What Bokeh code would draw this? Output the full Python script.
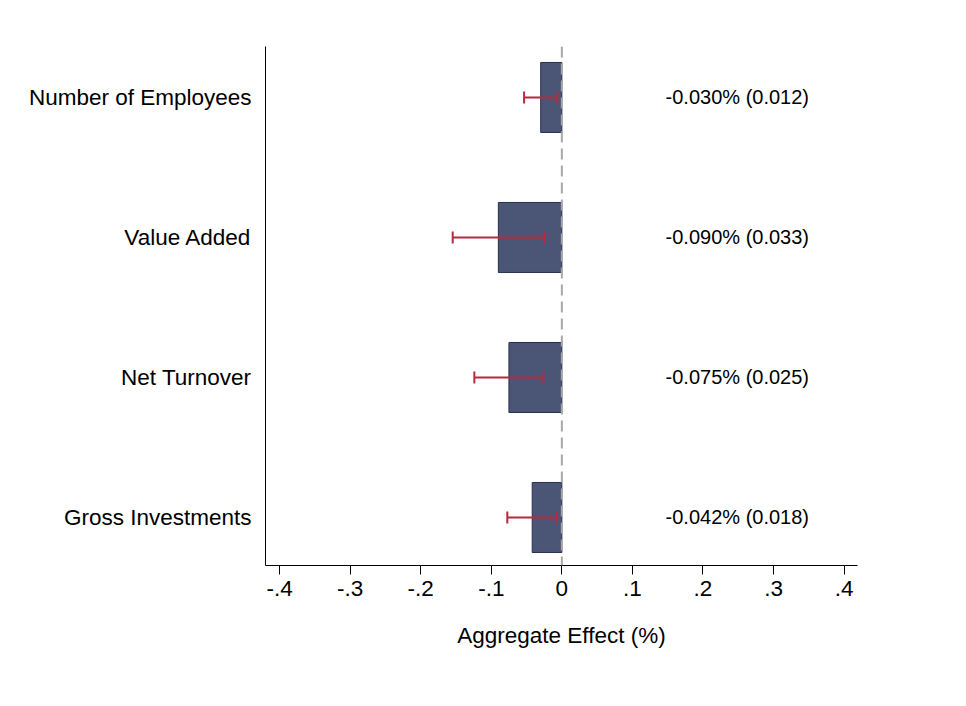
from bokeh.plotting import figure
from bokeh.models import Range1d, FixedTicker, Span, ColumnDataSource
from bokeh.core.properties import value
from bokeh.embed import file_html
from bokeh.resources import INLINE
import math

# ---- data ----
categories = ["Gross Investments", "Net Turnover", "Value Added", "Number of Employees"]
positions = [1, 2, 3, 4]
estimates = [-0.042, -0.075, -0.090, -0.030]
std_errors = [0.018, 0.025, 0.033, 0.012]
annotations = ["-0.042% (0.018)", "-0.075% (0.025)", "-0.090% (0.033)", "-0.030% (0.012)"]
x_ticks = [-0.4, -0.3, -0.2, -0.1, 0, 0.1, 0.2, 0.3, 0.4]
x_tick_labels = ["-.4", "-.3", "-.2", "-.1", "0", ".1", ".2", ".3", ".4"]

lo = [e - 1.96 * s for e, s in zip(estimates, std_errors)]
hi = [e + 1.96 * s for e, s in zip(estimates, std_errors)]
zeros = [0 for _ in estimates]
annot_x = [0.147 for _ in estimates]

src = ColumnDataSource(dict(y=positions, est=estimates, zero=zeros, lo=lo, hi=hi,
                            txt=annotations, tx=annot_x))

FONT = "Liberation Sans"

p = figure(width=950, height=690, output_backend="svg", toolbar_location=None,
           x_range=Range1d(-0.42, 0.419), y_range=Range1d(0.657, 4.364),
           min_border_left=265, min_border_right=93, min_border_top=46, min_border_bottom=125)
p.outline_line_color = None
p.xgrid.visible = False
p.ygrid.visible = False
p.background_fill_color = "white"
p.border_fill_color = "white"

p.hbar(y="y", left="est", right="zero", height=0.5, source=src,
       fill_color="#4b5677", line_color="#27304f", line_width=1)

p.add_layout(Span(location=0, dimension="height", line_color="#a8a8a8",
                  line_dash="11 6", line_width=2))

p.segment(x0="lo", x1="hi", y0="y", y1="y", source=src, line_color="#b8283f", line_width=2)
p.scatter(x="lo", y="y", source=src, marker="dash", angle=math.pi / 2, size=12,
          line_color="#b8283f", line_width=2)
p.scatter(x="hi", y="y", source=src, marker="dash", angle=math.pi / 2, size=12,
          line_color="#b8283f", line_width=2)

p.text(x="tx", y="y", text="txt", source=src, text_align="left", text_baseline="middle",
       text_font=value(FONT), text_font_size="20px", text_color="black")

# x axis
xa = p.xaxis[0]
xa.ticker = FixedTicker(ticks=x_ticks)
xa.major_label_overrides = {t: l for t, l in zip(x_ticks, x_tick_labels)}
xa.minor_tick_line_color = None
xa.major_tick_in = 0
xa.major_tick_out = 9
xa.major_label_standoff = 6
xa.major_label_text_font = FONT
xa.major_label_text_font_size = "22.5px"
xa.major_label_text_color = "black"
xa.axis_line_color = "black"
xa.major_tick_line_color = "black"
xa.axis_label = "Aggregate Effect (%)"
xa.axis_label_text_font = FONT
xa.axis_label_text_font_size = "22.5px"
xa.axis_label_text_font_style = "normal"
xa.axis_label_text_color = "black"
xa.axis_label_standoff = 24

# y axis
ya = p.yaxis[0]
ya.ticker = FixedTicker(ticks=positions)
ya.major_label_overrides = {pos: c for pos, c in zip(positions, categories)}
ya.minor_tick_line_color = None
ya.major_tick_line_color = None
ya.major_label_standoff = 8
ya.major_label_text_font = FONT
ya.major_label_text_font_size = "22.5px"
ya.major_label_text_color = "black"
ya.axis_line_color = "black"

open("out.html", "w").write(file_html(p, INLINE))
